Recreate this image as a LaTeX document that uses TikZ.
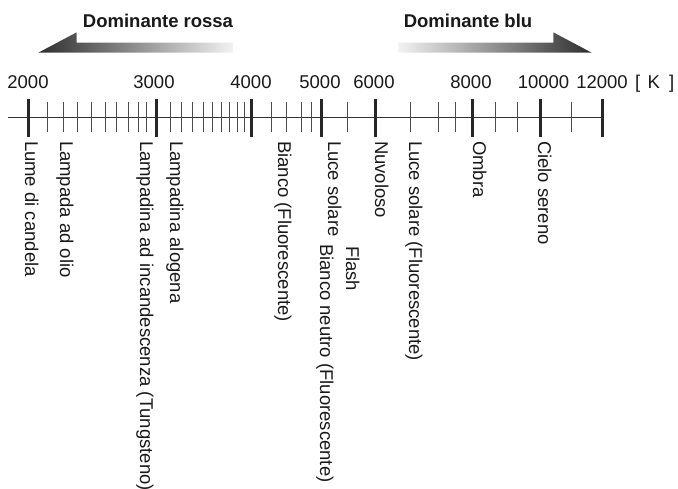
\documentclass[tikz,border=0pt]{standalone}
\usepackage{fontspec}
\setmainfont{Liberation Sans}
\begin{document}
\begin{tikzpicture}[x=1pt,y=-1pt,
  every node/.style={inner sep=0pt,outer sep=0pt,font=\fontsize{18.5}{21}\selectfont,text=black!90},
  numlab/.style={anchor=base},
  vlab/.style={rotate=-90,anchor=base west},
  title/.style={anchor=base,font=\fontsize{18.5}{21}\selectfont\bfseries},
  axisline/.style={line width=1.5pt,draw=black!80},
  majortick/.style={line width=3pt,draw=black!85},
  minortick/.style={line width=1pt,draw=black!70}]
\useasboundingbox (0,0) rectangle (678,488);
% gradient arrows
\shade[left color=black!82,right color=black!5]
  (38.3,52.7) -- (76.7,32.3) -- (76.7,42.5) -- (233,42.5) -- (233,52.7) -- cycle;
\shade[left color=black!5,right color=black!82]
  (398.3,42.5) -- (553.3,42.5) -- (553.3,32.3) -- (591.7,52.7) -- (398.3,52.7) -- cycle;
\node[title] (tred) at (158,27.5) {Dominante rossa};
\node[title] (tblue) at (468,27.5) {Dominante blu};
% axis
\draw[axisline] (8.3,117.7) -- (602,117.7);
\foreach \x in {47.7,63.3,77.7,91.7,105.3,116.7,128.3,138.3,146.7,
                170,181.3,192.5,203.3,212.7,221.3,229.3,237,244.5,
                271.7,286.7,301.7,311.7,347.7,410,438.3,455.5,495,517.3,571}
  \draw[minortick] (\x,102.3) -- (\x,131.7);
\foreach \x in {28.3,156,251.7,321,375.5,472.5,540,602}
  \draw[majortick] (\x,99) -- (\x,137);
% scale numbers
\node[numlab] (n2000) at (28,88) {2000};
\node[numlab] (n3000) at (154,88) {3000};
\node[numlab] (n4000) at (251,88) {4000};
\node[numlab] (n5000) at (320,88) {5000};
\node[numlab] (n6000) at (374,88) {6000};
\node[numlab] (n8000) at (471,88) {8000};
\node[numlab] (n10000) at (543.5,88) {10000};
\node[numlab] (n12000) at (602,88) {12000};
\node[numlab,anchor=base west] (unit) at (635,88) {[\hspace{0.4em}K\hspace{0.5em}]};
% vertical labels
\node[vlab] (l1) at (25,141) {Lume di candela};
\node[vlab] (l2) at (60,141) {Lampada ad olio};
\node[vlab] (l3) at (140,141) {Lampadina ad incandescenza (Tungsteno)};
\node[vlab] (l4) at (170,141) {Lampadina alogena};
\node[vlab] (l5) at (278,141) {Bianco (Fluorescente)};
\node[vlab] (l6) at (328,141) {Luce solare};
\node[vlab] (l7) at (320,244) {Bianco neutro (Fluorescente)};
\node[vlab] (l8) at (346,246) {Flash};
\node[vlab] (l9) at (375,141) {Nuvoloso};
\node[vlab] (l10) at (409,141) {Luce solare (Fluorescente)};
\node[vlab] (l11) at (473,141) {Ombra};
\node[vlab] (l12) at (538,141) {Cielo sereno};
\end{tikzpicture}
\end{document}
